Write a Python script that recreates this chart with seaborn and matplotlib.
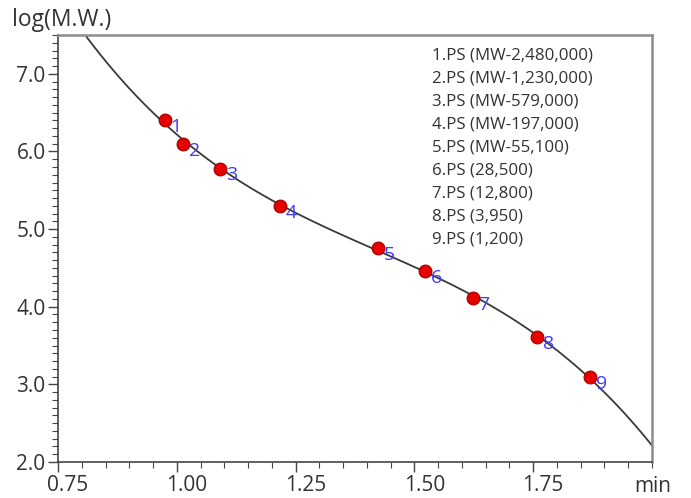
import matplotlib
matplotlib.use("Agg")
import matplotlib.pyplot as plt
import matplotlib.transforms as mtransforms
import seaborn as sns
import numpy as np
from matplotlib.ticker import MultipleLocator, FormatStrFormatter

# ---- data ----
retention_min = [0.975, 1.014, 1.091, 1.217, 1.424, 1.523, 1.623, 1.758, 1.870]
log_mw = [6.40, 6.10, 5.78, 5.30, 4.76, 4.465, 4.11, 3.61, 3.09]
point_labels = ["1", "2", "3", "4", "5", "6", "7", "8", "9"]
standards = ["1.PS (MW-2,480,000)", "2.PS (MW-1,230,000)", "3.PS (MW-579,000)",
             "4.PS (MW-197,000)", "5.PS (MW-55,100)", "6.PS (28,500)",
             "7.PS (12,800)", "8.PS (3,950)", "9.PS (1,200)"]
x_ticks = [0.75, 1.00, 1.25, 1.50, 1.75]
x_tick_labels = ["0.75", "1.00", "1.25", "1.50", "1.75"]
y_ticks = [2.0, 3.0, 4.0, 5.0, 6.0, 7.0]

sns.set_theme(style="white")
plt.rcParams['font.family'] = ['Open Sans', 'DejaVu Sans']

W, H = 691, 498
fig = plt.figure(figsize=(W / 100, H / 100), dpi=100)
L, R, B, T = 58, 652, 462, 35
ax = fig.add_axes([L / W, 1 - B / H, (R - L) / W, (B - T) / H])

ax.set_xlim(0.75, 2.0)
ax.set_ylim(2.0, 7.5)

sns.regplot(x=retention_min, y=log_mw, order=3, ci=None, truncate=False,
            scatter=False, ax=ax, line_kws=dict(color="#3a3a3a", lw=1.3))
sns.scatterplot(x=retention_min, y=log_mw, ax=ax, s=85, color="#e60000",
                edgecolor="#a00000", linewidth=0.8, zorder=5, legend=False)
ax.set_xlim(0.75, 2.0)
ax.set_ylim(2.0, 7.5)

for xv, yv, lab in zip(retention_min, log_mw, point_labels):
    ax.annotate(lab, (xv, yv), xytext=(8, -5), textcoords="offset points",
                ha="center", va="center", fontsize=14, color="#3c3cff", zorder=6)

ax.set_xticks(x_ticks)
ax.set_xticklabels(x_tick_labels)
ax.set_yticks(y_ticks)
ax.yaxis.set_major_formatter(FormatStrFormatter("%.1f"))
ax.xaxis.set_minor_locator(MultipleLocator(0.05))
ax.yaxis.set_minor_locator(MultipleLocator(0.1))
ax.tick_params(axis="both", which="major", direction="out", length=7, width=1,
               color="#444444", labelsize=15, labelcolor="#333333", pad=2,
               bottom=True, left=True)
ax.tick_params(axis="both", which="minor", direction="out", length=4, width=0.8,
               color="#444444", bottom=True, left=True)
ax.set_xlabel("")
ax.set_ylabel("")

# the original's x tick labels sit a little to the right of their ticks
shift = mtransforms.ScaledTranslation(0.10, 0, fig.dpi_scale_trans)
for lbl in ax.get_xticklabels():
    lbl.set_transform(lbl.get_transform() + shift)

for side in ["left", "bottom"]:
    ax.spines[side].set_color("#444444")
    ax.spines[side].set_linewidth(1.2)
for side in ["top", "right"]:
    ax.spines[side].set_color("#8c8c8c")
    ax.spines[side].set_linewidth(1.8)

fig.text(12 / W, 1 - 20 / H, "log(M.W.)", fontsize=16.5, color="#333333",
         ha="left", va="center")
fig.text(653 / W, 1 - 486 / H, "min", fontsize=15, color="#333333",
         ha="center", va="center")

for i, s in enumerate(standards):
    fig.text(432 / W, 1 - (55 + 23.1 * i) / H, s, fontsize=12.2, color="#333333",
             ha="left", va="center")

fig.savefig("out.png", dpi=100)
